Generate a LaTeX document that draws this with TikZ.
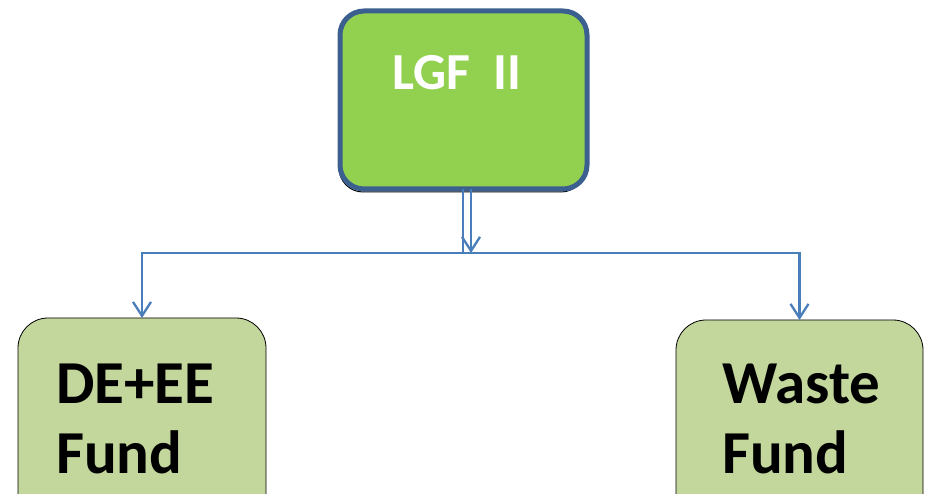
\documentclass[tikz,border=0pt]{standalone}
\usepackage{fontspec}
\setmainfont{Carlito}
\usetikzlibrary{arrows.meta}
\definecolor{topfill}{HTML}{92D050}
\definecolor{topline}{HTML}{3B5F8E}
\definecolor{conncol}{HTML}{4A7EBB}
\definecolor{subfill}{HTML}{C3D69B}
\tikzset{
  topbox/.style={draw=topline, fill=topfill, line width=5pt, rounded corners=24pt, minimum width=247pt, minimum height=178pt, inner sep=0pt, outer sep=0pt},
  subbox/.style={draw=black, fill=subfill, line width=0.8pt, rounded corners=30pt, minimum width=248pt, minimum height=222pt, inner sep=0pt, outer sep=0pt},
  conn/.style={draw=conncol, line width=2.3pt},
  arr/.style={conn, -{Straight Barb[length=14pt,width=18pt]}},
  toptext/.style={anchor=base west, inner sep=0pt, text=white, font=\fontsize{52}{60}\selectfont\bfseries},
  subtext/.style={anchor=base west, inner sep=0pt, text=black, font=\fontsize{61}{70}\selectfont\bfseries}
}
\begin{document}
\begin{tikzpicture}[x=1pt,y=-1pt]
\useasboundingbox (0,0) rectangle (927,494);
\clip (0,0) rectangle (927,494);
% shadow line of top box
\draw[black, line width=1pt, rounded corners=24pt] (339,12) rectangle (585,192);
\node[topbox] (top) at (463.5,100) {};
\node[toptext] (lgf) at (392,90) {LGF\ \ II};
\node[subbox] (left) at (142,429) {};
\node[subbox, minimum width=247pt] (right) at (799.5,431) {};
\node[subtext] (de) at (56,403) {DE+EE};
\node[subtext] (fund1) at (56,473) {Fund};
\node[subtext] (waste) at (722,403) {Waste};
\node[subtext] (fund2) at (722,473) {Fund};
\coordinate (j) at (463,253);
\coordinate (ja) at (471,253);
\draw[conn] (top.south -| j) -- (j);
\draw[arr] (top.south -| ja) -- (ja);
\draw[arr] (j) -| (left.north);
\draw[arr] (j) -| (right.north);
\end{tikzpicture}
\end{document}
